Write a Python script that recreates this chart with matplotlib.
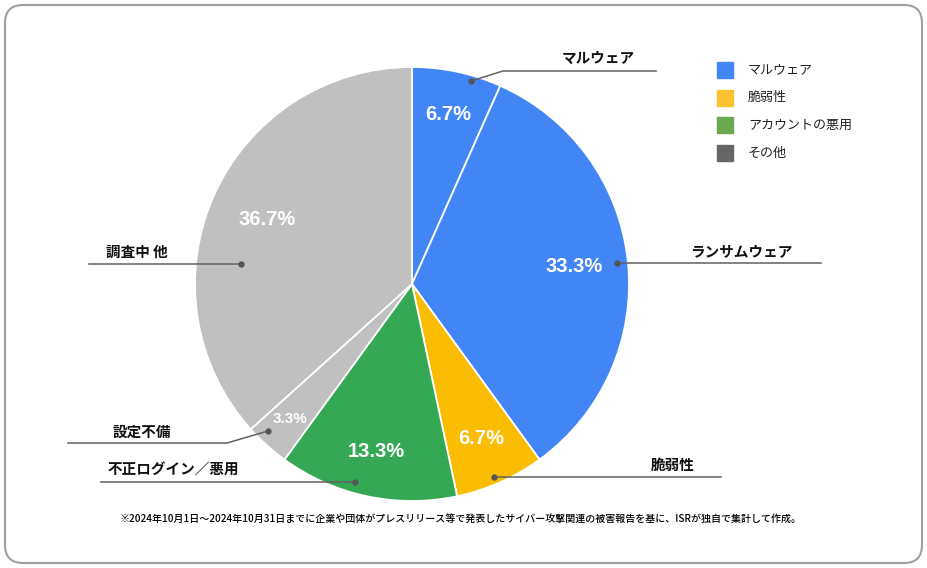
import matplotlib
matplotlib.use("Agg")
import matplotlib.pyplot as plt
from matplotlib.patches import FancyBboxPatch, Rectangle
import numpy as np

plt.rcParams['font.family'] = ['Noto Sans CJK JP', 'DejaVu Sans']

# data (件数, 計30件)
categories = ['マルウェア', 'ランサムウェア', '脆弱性', '不正ログイン／悪用', '設定不備', '調査中 他']
counts = [2, 10, 2, 4, 1, 11]
pie_colors = ['#4285F4', '#4285F4', '#FBBC04', '#34A853', '#C0C0C0', '#C0C0C0']

legend_labels = ['マルウェア', '脆弱性', 'アカウントの悪用', 'その他']
legend_colors = ['#4285F4', '#F9C22E', '#6AA84F', '#666666']

footnote = ('※2024年10月1日～2024年10月31日までに企業や団体がプレスリリース等で発表した'
            'サイバー攻撃関連の被害報告を基に、ISRが独自で集計して作成。')

W, H = 927, 568
fig = plt.figure(figsize=(W / 100, H / 100), dpi=100)
ax = fig.add_axes([0, 0, 1, 1])

# outer rounded frame
ax.add_patch(FancyBboxPatch((5, 5), W - 10, H - 10, boxstyle='round,pad=0,rounding_size=18',
                            fill=False, ec='#A0A0A0', lw=1.5))

# pie: y axis is inverted, so counterclock=True draws clockwise on screen
cx, cy, R = 412, 284, 217
wedges, texts, autotexts = ax.pie(
    counts, colors=pie_colors, startangle=-90, counterclock=True,
    center=(cx, cy), radius=R, frame=True,
    wedgeprops=dict(edgecolor='white', linewidth=1.3),
    autopct=lambda p: f'{p:.1f}%', pctdistance=0.77,
    textprops=dict(color='white', fontsize=14.5, fontweight='bold', family='Liberation Sans'))
ax.set_xlim(0, W)
ax.set_ylim(H, 0)
ax.set_aspect('equal')
ax.axis('off')

# radial placement of the percentage labels (fraction of radius)
pct_radius = [0.80, 0.75, 0.78, 0.79, 0.84, 0.73]
for t, w, r in zip(autotexts, wedges, pct_radius):
    a = np.deg2rad((w.theta1 + w.theta2) / 2)
    t.set_position((cx + R * r * np.cos(a), cy + R * r * np.sin(a)))
autotexts[4].set_fontsize(11)

# leader lines: (dot, elbow, end), label position
leaders = [
    ((471, 81), (503, 71), (656, 71), (598, 58)),
    ((617, 263), (617, 263), (821, 263), (741, 251)),
    ((494, 477), (494, 477), (721, 477), (673, 465)),
    ((355, 482), (355, 482), (101, 482), (173, 470)),
    ((268, 431), (227, 443), (68, 443), (142, 432)),
    ((241, 264), (241, 264), (89, 264), (137, 252)),
]
for name, (dot, elbow, end, lab) in zip(categories, leaders):
    ax.plot([dot[0], elbow[0], end[0]], [dot[1], elbow[1], end[1]], color='#616161', lw=1.1)
    ax.plot(*dot, 'o', color='#555555', ms=3.5)
    ax.text(lab[0], lab[1], name, ha='center', va='center', fontsize=10.5,
            fontweight='bold', color='#111111')

# legend
for i, (lab, col) in enumerate(zip(legend_labels, legend_colors)):
    y = 70 + i * 27.7
    ax.add_patch(Rectangle((717, y - 8), 16, 16, color=col))
    ax.text(748, y, lab, ha='left', va='center', fontsize=9.4, color='#222222')

ax.text(461, 519, footnote, ha='center', va='center', fontsize=7.2, color='#000000',
        fontweight='medium')

fig.savefig('out.png', dpi=100)
